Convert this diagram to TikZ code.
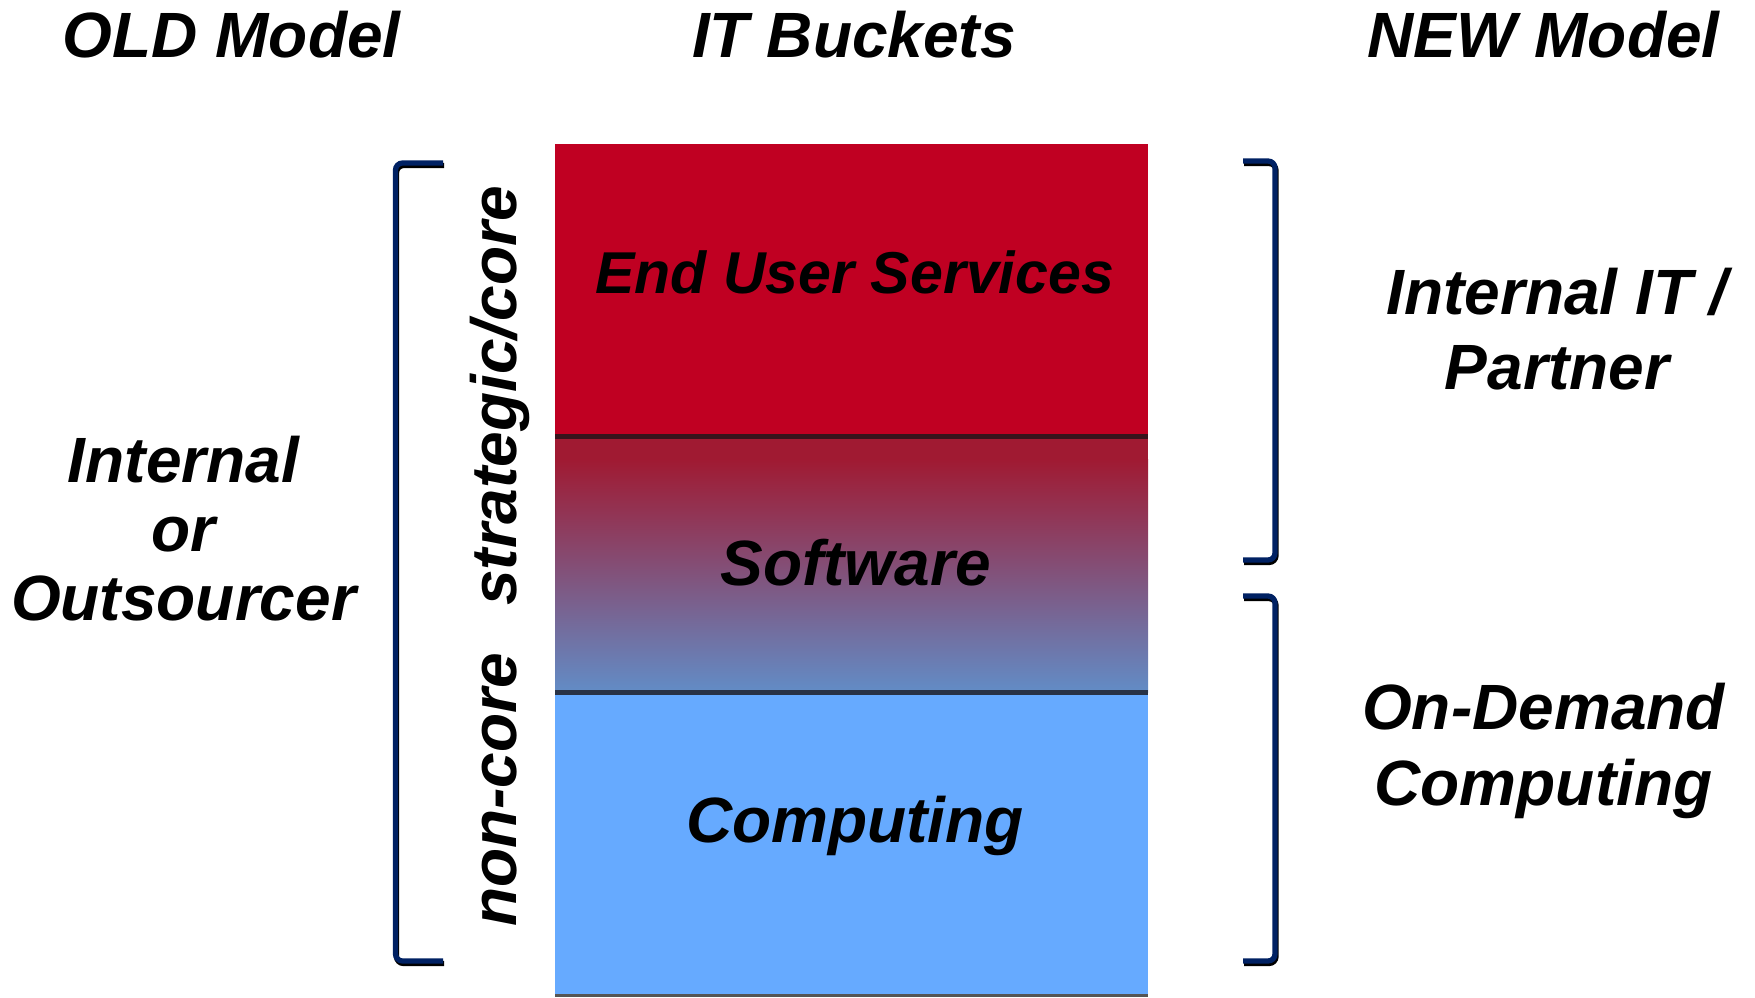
\documentclass[tikz,border=0pt]{standalone}
\usepackage{fontspec}
\setmainfont{Liberation Sans}
\usepackage{tikz}
\usetikzlibrary{positioning, calc}
\definecolor{layerred}{RGB}{192, 0, 34}
\definecolor{softtop}{RGB}{160, 26, 50}
\definecolor{softmid}{RGB}{132, 100, 145}
\definecolor{softbot}{RGB}{98, 140, 198}
\definecolor{layerblue}{RGB}{102, 170, 255}
\definecolor{bracketblue}{RGB}{0, 33, 99}
\definecolor{darkline}{RGB}{40, 50, 70}

\begin{document}
\begin{tikzpicture}[
    x=0.01cm, y=-0.01cm,
    label/.style={font=\fontsize{18.2}{19.6}\selectfont\bfseries\itshape, inner sep=0pt, align=center},
    heading/.style={label, anchor=base},
    bracket/.style={draw=bracketblue, line width=1.5pt, rounded corners=2pt},
    bracketshadow/.style={draw=black, line width=1.5pt, rounded corners=2pt, shift={(1,2.5)}},
    divider/.style={line width=1.3pt}
]
\useasboundingbox (0,0) rectangle (1755,997);

% Headings
\node[heading] (old) at (231.7,58) {OLD Model};
\node[heading] (buckets) at (854,58) {IT Buckets};
\node[heading] (new) at (1543.5,58) {NEW Model};

% IT buckets
\fill[layerred] (555,144) rectangle (1148,436);
\fill[softtop] (555,436) rectangle (1148,460);
\shade[top color=softtop, middle color=softmid, bottom color=softbot] (555,459) rectangle (1148,692);
\fill[layerblue] (555,692) rectangle (1148,994);
\draw[divider, draw={rgb,255:red,55;green,20;blue,28}] (555,436.5) -- (1148,436.5);
\draw[divider, draw=darkline] (555,692.5) -- (1148,692.5);
\draw[line width=1pt, draw={rgb,255:red,85;green,85;blue,85}] (555,995.5) -- (1148,995.5);

\node[heading, font=\fontsize{16.8}{18}\selectfont\bfseries\itshape] (eus) at (854.6,293.5) {End User Services};
\node[heading] (software) at (855.7,585) {Software};
\node[heading] (computing) at (855,842) {Computing};

% Core / non-core
\node[heading, rotate=90] (core) at (516,396) {strategic/core};
\node[heading, rotate=90] (noncore) at (516,790) {non-core};

% Brackets
\draw[bracketshadow] (443,163) -- (395.5,163) -- (395.5,961) -- (443,961);
\draw[bracket] (443,163) -- (395.5,163) -- (395.5,961) -- (443,961);
\draw[bracketshadow] (1243,161) -- (1275,161) -- (1275,560) -- (1243,560);
\draw[bracket] (1243,161) -- (1275,161) -- (1275,560) -- (1243,560);
\draw[bracketshadow] (1243,596) -- (1275,596) -- (1275,961) -- (1243,961);
\draw[bracket] (1243,596) -- (1275,596) -- (1275,961) -- (1243,961);

% Sourcing labels
\node[label] (oldsrc) at (183.5,529) {Internal\\or\\Outsourcer};
\node[label, font=\fontsize{18.2}{21.3}\selectfont\bfseries\itshape] (partner) at (1557,328.7) {Internal IT /\\Partner};
\node[label, font=\fontsize{18.2}{21.6}\selectfont\bfseries\itshape] (ondemand) at (1543.5,751) {On-Demand\\Computing};

\end{tikzpicture}
\end{document}
